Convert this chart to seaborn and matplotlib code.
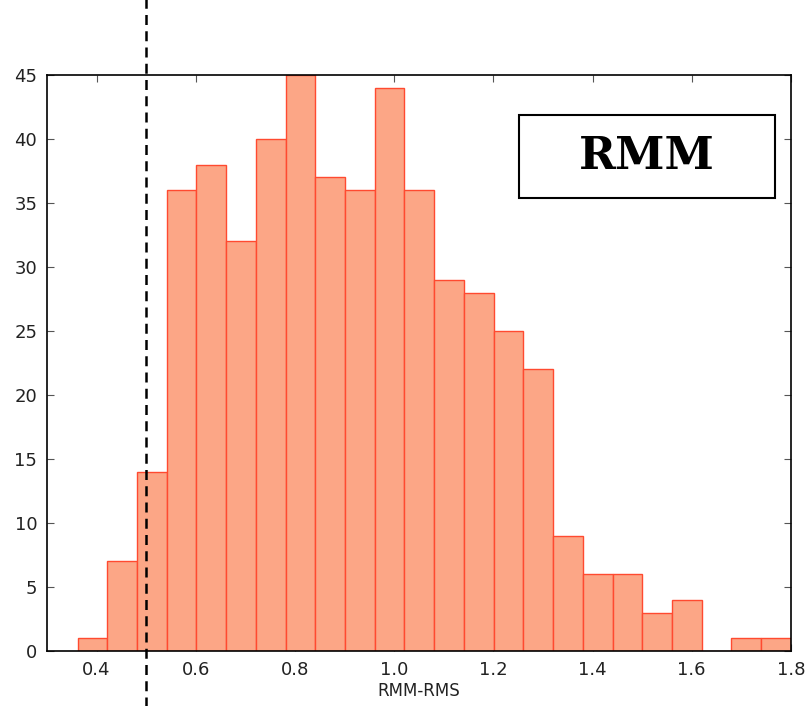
import numpy as np
import pandas as pd
import matplotlib
matplotlib.use("Agg")
import matplotlib.pyplot as plt
import seaborn as sns
from matplotlib.patches import Rectangle

sns.set_style("ticks")
plt.rcParams['font.family'] = ['DejaVu Sans']
plt.rcParams['text.color'] = 'black'
plt.rcParams['xtick.labelcolor'] = '#222222'
plt.rcParams['ytick.labelcolor'] = '#222222'
plt.rcParams['axes.labelcolor'] = '#222222'

# Histogram data (bin edges and counts)
bin_start = 0.3615
bin_end = 1.8
n_bins = 24
counts = [1, 7, 14, 36, 38, 32, 40, 45, 37, 36, 44, 36, 29, 28, 25, 22, 9, 6, 6, 3, 4, 0, 1, 1]
threshold = 0.5
x_ticks = [0.4, 0.6, 0.8, 1.0, 1.2, 1.4, 1.6, 1.8]
y_ticks = [0, 5, 10, 15, 20, 25, 30, 35, 40, 45]
label_text = "RMM"
xlabel = "RMM-RMS"

edges = np.linspace(bin_start, bin_end, n_bins + 1)
centers = (edges[:-1] + edges[1:]) / 2
df = pd.DataFrame({"x": centers, "w": counts})

fig = plt.figure(figsize=(8.08, 7.06), dpi=100)
ax = fig.add_axes([0.0582, 0.0779, 0.9206, 0.8159])

sns.histplot(data=df, x="x", weights="w", bins=n_bins, binrange=(bin_start, bin_end), ax=ax,
             color="#FCA686", alpha=1.0, edgecolor="#FF4A30", linewidth=1.0)

ax.axvline(threshold, ymin=-0.2, ymax=1.2, color="black", linestyle=(0, (4, 2.5)),
           linewidth=1.8, clip_on=False, zorder=4)

ax.set_xlim(0.3, 1.8)
ax.set_ylim(0, 45)
ax.set_xticks(x_ticks)
ax.set_xticklabels([f"{t:.1f}" for t in x_ticks])
ax.set_yticks(y_ticks)
ax.set_ylabel("")
ax.set_xlabel(xlabel, fontsize=12, labelpad=2)
ax.tick_params(direction="in", length=5, width=0.8, top=True, right=True,
               labelsize=13, pad=7, color="#555555")
for s in ax.spines.values():
    s.set_linewidth(1.2)
    s.set_color("black")

ax.add_patch(Rectangle((0.634, 0.786), 0.344, 0.145, transform=ax.transAxes,
                       facecolor="white", edgecolor="black", linewidth=1.5, zorder=5))
ax.text(0.806, 0.858, label_text, transform=ax.transAxes, ha="center", va="center",
        fontsize=32, fontweight="heavy", family="DejaVu Serif", color="black", zorder=6)

fig.savefig("out.png", dpi=100)
